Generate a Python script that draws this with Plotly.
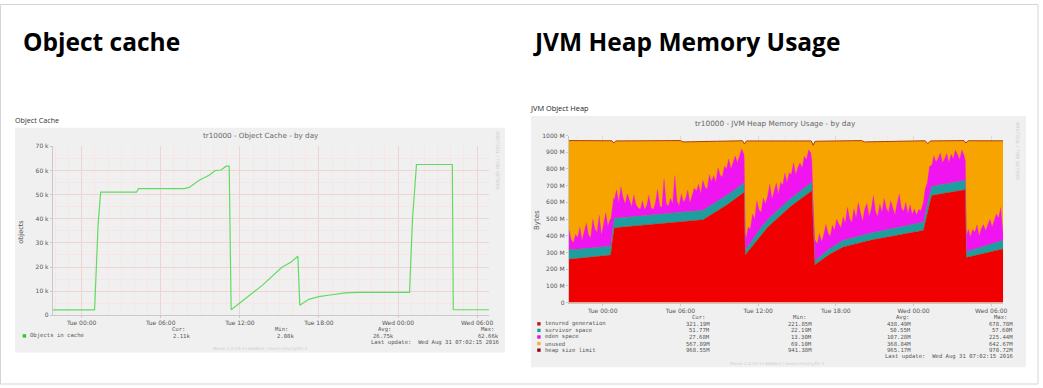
import pandas as pd
import plotly.graph_objects as go

W, H = 1043, 388
BASE = pd.Timestamp("2016-08-30 00:00")  # Tue 00:00

# ---------------- data ----------------
page_titles = ["Object cache", "JVM Heap Memory Usage"]
panel_labels = ["Object Cache", "JVM Object Heap"]
graph_titles = ["tr10000 - Object Cache - by day", "tr10000 - JVM Heap Memory Usage - by day"]

# Object cache (hours relative to Tue 00:00, objects)
cache_hours = [-2.19, 0.98, 1.25, 1.44, 4.16, 4.31, 7.79, 8.16, 8.92, 9.67, 10.13, 10.58,
               10.96, 11.19, 11.34, 13.68, 15.19, 15.87, 16.40, 16.55, 17.23, 17.99, 18.97,
               20.03, 21.0, 24.87, 25.10, 25.40, 28.12, 28.19, 30.91]
cache_objects = [2200, 2200, 38000, 51000, 51000, 52500, 52500, 53000, 56000, 58000, 60000, 60200,
                 61800, 61800, 2300, 12300, 19900, 22000, 24500, 4200, 6600, 7700, 8500,
                 9300, 9500, 9500, 40000, 62500, 62500, 2300, 2300]
cache_yticks = [0, 10000, 20000, 30000, 40000, 50000, 60000, 70000]
cache_yticktext = ["0", "10 k", "20 k", "30 k", "40 k", "50 k", "60 k", "70 k"]

# JVM heap (hours relative to Tue 00:00, MB)
tenured_hours = [-2.62, 0.62, 0.85, 7.69, 9.23, 10.92, 11.0, 11.92, 12.69, 14.23, 16.15, 16.38,
                 17.31, 18.46, 20.38, 22.69, 24.77, 25.38, 28.0, 28.08, 30.92]
tenured_mb = [259, 284, 447, 494, 565, 660, 285, 376, 447, 560, 670, 225,
              280, 330, 370, 400, 433, 641, 676, 270, 321]

survivor_hours = [-2.62, 0.62, 0.92, 10.92, 11.0, 11.92, 16.15, 16.38, 18.46, 24.77, 25.38, 28.0, 28.08, 30.92]
survivor_mb = [55, 55, 57, 57, 30, 45, 50, 25, 40, 50, 55, 57, 35, 52]

# eden space, 10-minute samples from Mon 21:24 (h = -2.6)
eden_seg1 = [120, 60, 40, 90, 70, 130, 50, 100, 150, 80, 60, 170, 110, 90, 190, 70, 140, 200, 120, 160]
eden_seg2 = [150, 110, 170, 90, 185, 120, 80, 140, 100, 60, 130, 70,
             50, 40, 90, 35, 60, 120, 45, 30, 70, 150, 50, 40, 210, 60, 45, 90, 55, 225, 70, 40,
             110, 60, 80, 130, 50, 95, 140,
             120, 160, 100, 180, 130, 110, 190, 140, 170, 120, 200, 150, 130, 185, 160, 210, 140,
             175, 200, 150, 190, 215, 170]
eden_seg3 = [60, 110, 80, 150, 100, 190, 120, 90, 160, 110, 140, 200, 100, 130, 170, 90, 150,
             120, 180, 110, 160, 140, 200, 120, 150, 170, 130, 190, 160, 210, 180]
eden_seg4 = [70, 120, 90, 140, 80, 110, 160, 100, 70, 130, 90, 150, 110,
             80, 140, 100, 190, 120, 90, 170, 110, 200, 130, 80, 150, 180, 100, 140, 220, 120, 90,
             160, 110, 190, 130, 100, 170, 120, 80, 150, 200, 110, 90, 140, 70, 120, 60, 90, 50, 80,
             70, 110, 150, 130, 170, 120, 180, 140, 160, 190, 130, 150, 180, 120, 170, 140, 190,
             160, 130, 185, 150]
eden_seg5 = [90, 130, 80, 120, 100, 140, 70, 110, 130, 90, 120, 150, 100, 130, 170, 140, 200]
eden_last = 28  # Wed 06:55

limit_hours = [-2.62, 0.7, 0.85, 1.0, 6.0, 6.2, 10.8, 10.95, 11.1, 16.1, 16.25, 16.4, 20.0, 20.2,
               24.9, 25.1, 25.3, 27.9, 28.05, 28.2, 30.92]
limit_mb = [970, 969, 955, 968, 970, 962, 969, 950, 968, 968, 942, 966, 970, 962,
            969, 952, 968, 970, 955, 969, 968.5]

heap_yticks = [0, 100, 200, 300, 400, 500, 600, 700, 800, 900, 1000]
heap_yticktext = ["0", "100 M", "200 M", "300 M", "400 M", "500 M", "600 M", "700 M", "800 M", "900 M", "1000 M"]

stat_headers = ["Cur:", "Min:", "Avg:", "Max:"]
cache_series = ["Objects in cache"]
cache_stats = ["2.11k", "2.08k", "26.75k", "62.66k"]
heap_series = ["tenured generation", "survivor space", "eden space", "unused", "heap size limit"]
heap_cur = ["321.19M", "51.77M", "27.68M", "567.89M", "968.55M"]
heap_min = ["221.85M", "22.19M", "13.30M", "69.10M", "941.38M"]
heap_avg = ["438.49M", "50.55M", "107.28M", "368.84M", "965.17M"]
heap_max = ["678.78M", "57.60M", "225.44M", "642.67M", "970.72M"]
last_update = "Last update:  Wed Aug 31 07:02:15 2016"

# ---------------- styling ----------------
GREEN = "#5fdc5f"
RED = "#f00000"
TEAL = "#1e9e9e"
MAGENTA = "#f014f0"
ORANGE = "#f8a400"
LIMIT = "#a8400a"
legend_colors = ["#d01010", "#1e9e9e", "#d818d8", "#f2b030", "#8a0a0a"]
PANEL = "#f0f0f0"
GRID_MAJ = "#f0d4d4"
GRID_MIN = "#f6e6e6"
TXT = "#555555"
SANS = "DejaVu Sans"
MONO = "DejaVu Sans Mono"


def t(hours):
    return [BASE + pd.Timedelta(hours=h) for h in hours]


def px(x):
    return x / W


def py(y):
    return 1 - y / H


fig = go.Figure()

# Left chart
fig.add_trace(go.Scatter(x=t(cache_hours), y=cache_objects, mode="lines",
                         line=dict(color=GREEN, width=1.2), xaxis="x", yaxis="y",
                         showlegend=False, hoverinfo="skip"))

# Right chart: heap limit (orange = unused up to the limit), then stacked generations
fig.add_trace(go.Scatter(x=t(limit_hours), y=limit_mb, mode="lines", fill="tozeroy",
                         fillcolor=ORANGE, line=dict(color=LIMIT, width=1),
                         xaxis="x2", yaxis="y2", showlegend=False, hoverinfo="skip"))
eden_mb = eden_seg1 + eden_seg2 + eden_seg3 + eden_seg4 + eden_seg5
eden_times = list(pd.date_range(BASE + pd.Timedelta(hours=-2.6), periods=len(eden_mb), freq="10min"))
eden_times = eden_times + t([30.92])
eden_vals = eden_mb + [eden_last]
for name, xs, ys, col in [("tenured", t(tenured_hours), tenured_mb, RED),
                          ("survivor", t(survivor_hours), survivor_mb, TEAL),
                          ("eden", eden_times, eden_vals, MAGENTA)]:
    fig.add_trace(go.Scatter(x=xs, y=ys, name=name, stackgroup="heap", stackgaps="interpolate",
                             mode="lines", line=dict(color=col, width=0.3), fillcolor=col,
                             xaxis="x2", yaxis="y2", showlegend=False, hoverinfo="skip"))

axis_common = dict(showline=True, linecolor="#c8c8c8", linewidth=1, zeroline=False,
                   ticks="outside", ticklen=2, tickcolor="#c8c8c8",
                   tickfont=dict(family=SANS, size=6, color=TXT), gridcolor=GRID_MAJ,
                   gridwidth=1, showgrid=True)

xcommon = dict(type="date", tickformat="%a %H:%M", dtick=6 * 3600000,
               tick0="2016-08-30 00:00",
               minor=dict(dtick=3600000, showgrid=True, gridcolor=GRID_MIN, ticks=""),
               **axis_common)

fig.update_layout(
    width=W, height=H, margin=dict(l=0, r=0, t=0, b=0),
    paper_bgcolor="white", plot_bgcolor="white", showlegend=False,
    xaxis=dict(domain=[px(53), px(491)], anchor="y",
               range=[BASE + pd.Timedelta(hours=-2.19), BASE + pd.Timedelta(hours=30.91)],
               **xcommon),
    yaxis=dict(domain=[py(317), py(145)], anchor="x", range=[0, 70000],
               tickvals=cache_yticks, ticktext=cache_yticktext,
               minor=dict(dtick=5000, showgrid=True, gridcolor=GRID_MIN, ticks=""),
               **axis_common),
    xaxis2=dict(domain=[px(571), px(1007)], anchor="y2",
                range=[BASE + pd.Timedelta(hours=-2.62), BASE + pd.Timedelta(hours=30.92)],
                **xcommon),
    yaxis2=dict(domain=[py(304), py(134)], anchor="x2", range=[0, 1000],
                tickvals=heap_yticks, ticktext=heap_yticktext,
                minor=dict(dtick=50, showgrid=True, gridcolor=GRID_MIN, ticks=""),
                **axis_common),
)

shapes = [
    dict(type="rect", xref="paper", yref="paper", x0=px(0.5), x1=px(1042), y0=py(0.5), y1=py(387),
         line=dict(color="#d4d4d4", width=1), fillcolor="rgba(0,0,0,0)", layer="below"),
    dict(type="rect", xref="paper", yref="paper", x0=px(15), x1=px(507), y0=py(126), y1=py(355),
         line=dict(width=0), fillcolor=PANEL, layer="below"),
    dict(type="rect", xref="paper", yref="paper", x0=px(533), x1=px(1030), y0=py(114), y1=py(370),
         line=dict(width=0), fillcolor=PANEL, layer="below"),
]

anns = []


def ann(x, y, text, size=7, color=TXT, family=SANS, xanchor="left", angle=0, bold=False):
    if bold:
        text = "<b>" + text + "</b>"
    anns.append(dict(x=px(x), y=py(y), xref="paper", yref="paper", text=text, showarrow=False,
                     xanchor=xanchor, yanchor="middle", textangle=angle, borderpad=0,
                     font=dict(family=family, size=size, color=color)))


def square(x, y, color, s=3.4):
    shapes.append(dict(type="rect", xref="paper", yref="paper", x0=px(x - s / 2), x1=px(x + s / 2),
                       y0=py(y + s / 2), y1=py(y - s / 2), line=dict(width=0), fillcolor=color))


# page headings
ann(22, 38, page_titles[0], size=24.5, color="#000000", family="Open Sans", bold=True)
ann(534, 38, page_titles[1], size=24.5, color="#000000", family="Open Sans", bold=True)
ann(14, 118, panel_labels[0], size=7.2, color="#333333", family="Open Sans")
ann(531, 106, panel_labels[1], size=7.4, color="#222222", family="Open Sans")

# graph titles
ann(262, 134, graph_titles[0], size=7.2, color="#666666", xanchor="center")
ann(778, 122, graph_titles[1], size=7.3, color="#666666", xanchor="center")

# y axis labels
ann(21, 232, "objects", size=6.5, color=TXT, xanchor="center", angle=-90)
ann(539, 220, "Bytes", size=7, color=TXT, xanchor="center", angle=-90)

# rrdtool / munin watermarks
ann(500, 160, "RRDTOOL / TOBI OETIKER", size=4.5, color="#cfcfcf", xanchor="center", angle=90)
ann(1022, 150, "RRDTOOL / TOBI OETIKER", size=4.5, color="#cfcfcf", xanchor="center", angle=90)
ann(262, 351, "Munin 2.0.25-1+deb8u3 / murin-2mc/ry/fin-1", size=4.2, color="#cdcdcd", xanchor="center")
ann(780, 366, "Munin 2.0.25-1+deb8u3 / murin-2mc/ry/fin-1", size=4.2, color="#cdcdcd", xanchor="center")

# left legend
MS = 5.6
square(24.5, 338, "#22cc22")
ann(29, 338, cache_series[0], size=MS, family=MONO)
hx_left = [172, 275, 378, 482]
vx_left = [192, 296, 397, 502]
for i in range(4):
    ann(hx_left[i], 331, stat_headers[i], size=MS, family=MONO)
    ann(vx_left[i], 338, cache_stats[i], size=MS, family=MONO, xanchor="right")
ann(502, 344.5, last_update, size=MS, family=MONO, xanchor="right")

# right legend
rows_y = [325.7, 332.4, 339.1, 345.8, 352.5]
hx_right = [694, 795, 898, 997]
vx_right = [714, 816, 916, 1018]
for i in range(4):
    ann(hx_right[i], 319, stat_headers[i], size=MS, family=MONO)
cols = [heap_cur, heap_min, heap_avg, heap_max]
for r, name in enumerate(heap_series):
    square(541, rows_y[r], legend_colors[r])
    ann(546, rows_y[r], name, size=MS, family=MONO)
    for c in range(4):
        ann(vx_right[c], rows_y[r], cols[c][r], size=MS, family=MONO, xanchor="right")
ann(1018, 359, last_update, size=MS, family=MONO, xanchor="right")

fig.update_layout(shapes=shapes, annotations=anns)
fig.write_html("out.html", config={"displayModeBar": False},
               post_script="document.body.style.margin='0';document.body.style.overflow='hidden';")
